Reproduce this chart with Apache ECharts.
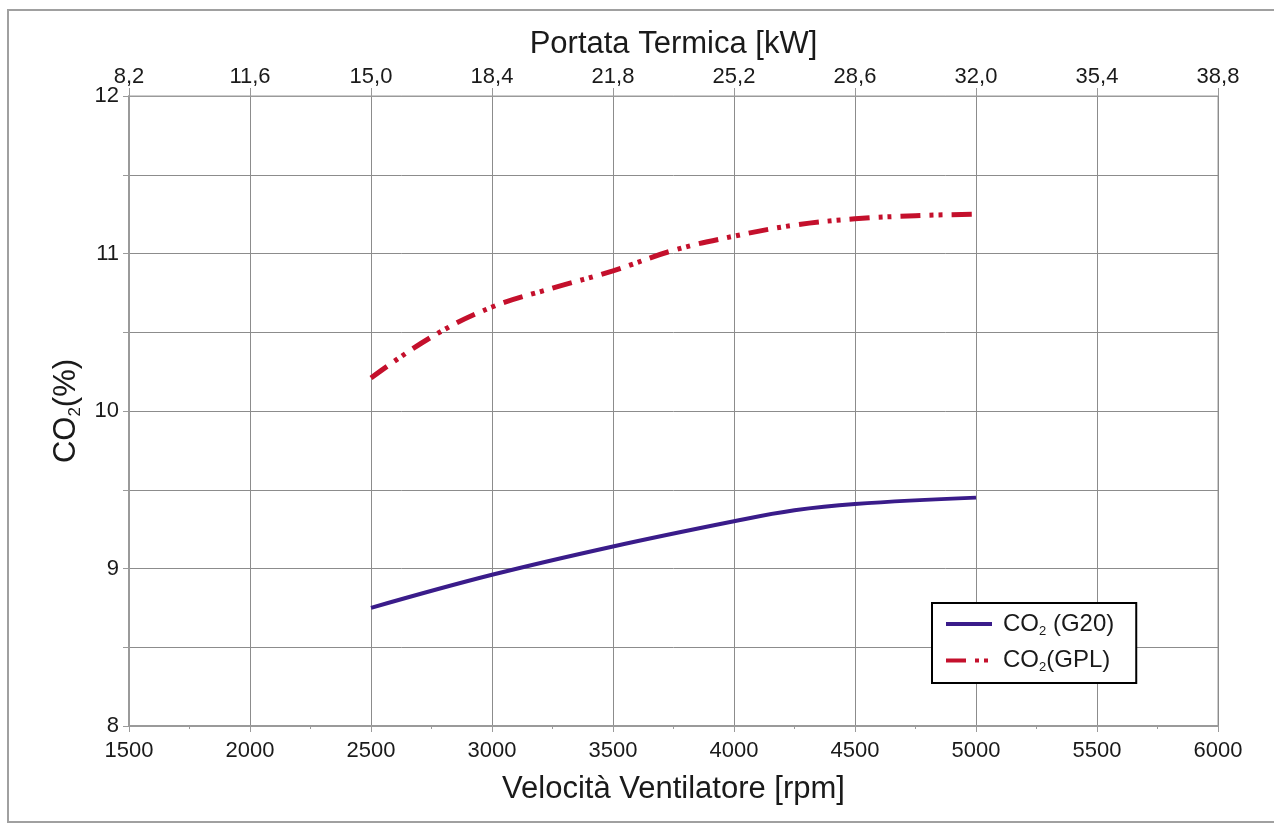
<!DOCTYPE html>
<html>
<head>
<meta charset="utf-8">
<script src="https://cdn.jsdelivr.net/npm/echarts@6/dist/echarts.min.js"></script>
<style>
  html, body { margin: 0; padding: 0; background: #fff; }
  #chart { width: 1274px; height: 824px; }
</style>
</head>
<body>
<div id="chart"></div>
<script>
// Fan speed (rpm) sample points and CO2 readings for each gas
const rpmG20 = [2500, 3000, 3500, 4000, 4250, 4500, 5000];
const co2G20 = [8.75, 8.96, 9.14, 9.30, 9.37, 9.41, 9.45];

const rpmGPL = [2500, 2750, 3000, 3250, 3500, 3750, 4000, 4250, 4500, 4750, 5000];
const co2GPL = [10.21, 10.47, 10.66, 10.78, 10.89, 11.02, 11.11, 11.18, 11.22, 11.24, 11.25];

// Thermal input scale shown on the top axis
const kwTicks = ['8,2', '11,6', '15,0', '18,4', '21,8', '25,2', '28,6', '32,0', '35,4', '38,8'];

const FONT = 'Liberation Sans, Arial, sans-serif';
const TXT = '#1a1a1a';
const AXIS_GRAY = '#9a9a9a';
const GRID_GRAY = '#8c8c8c';

const pair = (xs, ys) => xs.map((x, i) => [x, ys[i]]);

const legendRich = {
  a: { fontFamily: FONT, fontSize: 24, color: TXT },
  f: { fontFamily: FONT, fontSize: 24, color: TXT, padding: [0, 0, 0, 6] },
  s: { fontFamily: FONT, fontSize: 13, color: TXT, verticalAlign: 'bottom', padding: [14, 0, 0, 0] }
};

const chart = echarts.init(document.getElementById('chart'), null, { renderer: 'canvas' });

chart.setOption({
  backgroundColor: '#fff',
  animation: false,
  graphic: [{
    type: 'rect',
    shape: { x: 8, y: 10, width: 1290, height: 812 },
    style: { fill: 'none', stroke: '#a0a0a0', lineWidth: 2 },
    silent: true,
    z: -1
  }],
  grid: {
    left: 129, right: 56, top: 96, bottom: 98,
    show: true, borderColor: AXIS_GRAY, borderWidth: 1
  },
  legend: {
    left: 932, top: 603,
    orient: 'vertical',
    backgroundColor: '#fff',
    borderColor: '#000',
    borderWidth: 2,
    padding: [9, 22, 9, 12],
    itemGap: 11,
    itemWidth: 46,
    itemHeight: 14,
    itemStyle: { opacity: 0 },
    lineStyle: { width: 4 },
    data: ['G20', 'GPL'],
    formatter: name => name === 'G20'
      ? '{f|CO}{s|2}{a| (G20)}'
      : '{f|CO}{s|2}{a|(GPL)}',
    textStyle: { rich: legendRich, fontFamily: FONT, fontSize: 24, color: TXT }
  },
  xAxis: [
    {
      type: 'value',
      position: 'bottom',
      min: 1500, max: 6000, interval: 500,
      name: 'Velocità Ventilatore [rpm]',
      nameLocation: 'middle',
      nameGap: 48,
      nameTextStyle: { fontFamily: FONT, fontSize: 31, color: TXT },
      axisLine: { show: true, lineStyle: { color: AXIS_GRAY, width: 2 } },
      axisTick: { show: true, length: 6, lineStyle: { color: AXIS_GRAY } },
      minorTick: { show: true, splitNumber: 2, length: 3, lineStyle: { color: AXIS_GRAY } },
      axisLabel: { fontFamily: FONT, fontSize: 22, color: TXT, margin: 14, formatter: v => String(v) },
      splitLine: { show: true, lineStyle: { color: GRID_GRAY, width: 1 } }
    },
    {
      type: 'category',
      position: 'top',
      boundaryGap: false,
      data: kwTicks,
      name: 'Portata Termica [kW]',
      nameLocation: 'middle',
      nameGap: 36,
      nameTextStyle: { fontFamily: FONT, fontSize: 31, color: TXT },
      axisLine: { show: true, lineStyle: { color: AXIS_GRAY, width: 1 } },
      axisTick: { show: true, length: 8, alignWithLabel: true, lineStyle: { color: AXIS_GRAY } },
      axisLabel: { fontFamily: FONT, fontSize: 22, color: TXT, margin: 8, interval: 0 },
      splitLine: { show: false }
    }
  ],
  yAxis: {
    type: 'value',
    min: 8, max: 12, interval: 0.5,
    name: '{a|CO}{s|2}{a|(%)}',
    nameLocation: 'middle',
    nameGap: 44,
    nameRotate: 90,
    nameTextStyle: {
      fontFamily: FONT, fontSize: 31, color: TXT,
      rich: {
        a: { fontFamily: FONT, fontSize: 31, color: TXT },
        s: { fontFamily: FONT, fontSize: 17, color: TXT, verticalAlign: 'bottom', padding: [18, 0, 0, 0] }
      }
    },
    axisLine: { show: true, lineStyle: { color: AXIS_GRAY, width: 2 } },
    axisTick: { show: true, length: 6, lineStyle: { color: AXIS_GRAY } },
    axisLabel: {
      fontFamily: FONT, fontSize: 22, color: TXT, margin: 10,
      formatter: v => (Number.isInteger(v) ? String(v) : '')
    },
    splitLine: { show: true, lineStyle: { color: GRID_GRAY, width: 1 } }
  },
  series: [
    {
      name: 'G20',
      type: 'line',
      xAxisIndex: 0,
      data: pair(rpmG20, co2G20),
      smooth: 0.4,
      showSymbol: false,
      lineStyle: { color: '#3a1c8a', width: 4 },
      itemStyle: { color: '#3a1c8a' },
      z: 3
    },
    {
      name: 'GPL',
      type: 'line',
      xAxisIndex: 0,
      data: pair(rpmGPL, co2GPL),
      smooth: 0.4,
      showSymbol: false,
      lineStyle: { color: '#c4102c', width: 5, type: [20, 9, 4, 5, 4, 9], cap: 'butt' },
      itemStyle: { color: '#c4102c' },
      z: 3
    }
  ]
});
</script>
</body>
</html>
